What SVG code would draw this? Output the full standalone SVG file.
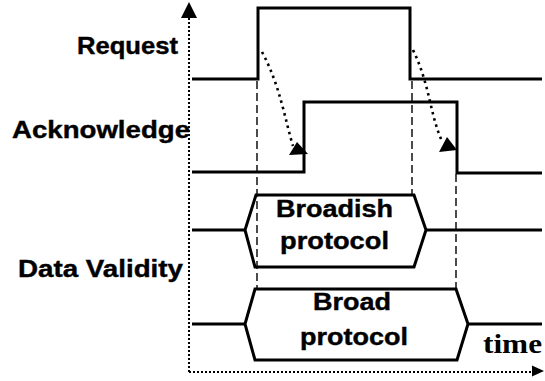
<svg xmlns="http://www.w3.org/2000/svg" width="545" height="381" viewBox="0 0 545 381">
<style>
.sig{fill:none;stroke:#000;stroke-width:3;stroke-linejoin:miter}
.dash{fill:none;stroke:#000;stroke-width:1.4;stroke-dasharray:8,4}
.axis{fill:none;stroke:#000;stroke-width:2;stroke-dasharray:2,2}
.curve{fill:none;stroke:#000;stroke-width:2.6;stroke-dasharray:2.5,4}
.head{fill:#000}
.lbl{font-family:"Liberation Sans",Arial,sans-serif;font-weight:bold;font-size:23.5px;fill:#000;stroke:#000;stroke-width:0.4}
.ser{font-family:"Liberation Serif","Times New Roman",serif;font-weight:bold;font-size:27px;fill:#000}
</style>
<rect width="545" height="381" fill="#fff"/>
<g id="axes">
<path class="axis" d="M189,372 V16"/>
<polygon class="head" points="189,2 181,18 197,18"/>
<path class="axis" d="M189,372 H533"/>
<polygon class="head" points="544,371 532,365.5 532,376.5"/>
</g>
<g id="request">
<path class="sig" d="M192,79 H258 V8 H410 V79 H542"/>
<text class="lbl" x="77" y="54" textLength="101" lengthAdjust="spacingAndGlyphs">Request</text>
</g>
<g id="acknowledge">
<path class="sig" d="M192,172 H304 V102 H457 V173 H542"/>
<text class="lbl" x="12" y="138" textLength="178" lengthAdjust="spacingAndGlyphs">Acknowledge</text>
</g>
<g id="broadish">
<path class="sig" d="M192,230 H245 M426,230 H542"/>
<path class="sig" d="M256,195 H414 L426,230 L414,267 H255 L245,230 Z"/>
<text class="lbl" x="276" y="217" textLength="117" lengthAdjust="spacingAndGlyphs">Broadish</text>
<text class="lbl" x="280" y="249" textLength="109" lengthAdjust="spacingAndGlyphs">protocol</text>
</g>
<g id="broad">
<path class="sig" d="M192,324 H245 M468,324 H542"/>
<path class="sig" d="M255,289 H456 L468,324 L457,360 H255 L245,324 Z"/>
<text class="lbl" x="313" y="310" textLength="78" lengthAdjust="spacingAndGlyphs">Broad</text>
<text class="lbl" x="300" y="345" textLength="108" lengthAdjust="spacingAndGlyphs">protocol</text>
</g>
<g id="data-validity">
<text class="lbl" x="18" y="277" textLength="165" lengthAdjust="spacingAndGlyphs">Data Validity</text>
</g>
<g id="time">
<text class="ser" x="483" y="353" textLength="59" lengthAdjust="spacingAndGlyphs">time</text>
</g>
<g id="connectors">
<path class="dash" d="M257,81 V289"/>
<path class="dash" d="M412,81 V195"/>
<path class="dash" d="M456,174 V289"/>
<path class="curve" d="M262,52 C280,85 285,120 293,146"/>
<polygon class="head" points="297,142 289,155 308,154"/>
<path class="curve" d="M413,50 C430,85 430,115 442,141"/>
<polygon class="head" points="447,137 439,152 457,150"/>
</g>
</svg>
